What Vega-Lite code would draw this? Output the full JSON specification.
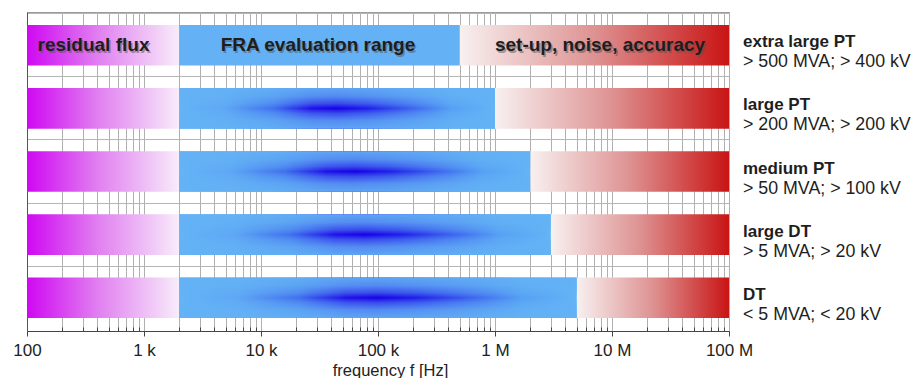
{
  "$schema": "https://vega.github.io/schema/vega-lite/v6.json",
  "width": 702,
  "height": 319,
  "autosize": {"type": "none"},
  "padding": {"left": 27, "top": 12, "right": 186, "bottom": 47},
  "background": "white",
  "config": {
    "view": {"stroke": "#9a9a9a", "strokeWidth": 1},
    "font": "Liberation Sans"
  },
  "datasets": {
    "segments": [
      {"pt": "extra large PT", "spec": "> 500 MVA; > 400 kV", "seg": "flux", "f1": 100, "f2": 2000},
      {"pt": "extra large PT", "spec": "> 500 MVA; > 400 kV", "seg": "fra", "f1": 2000, "f2": 500000},
      {"pt": "extra large PT", "spec": "> 500 MVA; > 400 kV", "seg": "noise", "f1": 500000, "f2": 100000000},
      {"pt": "large PT", "spec": "> 200 MVA; > 200 kV", "seg": "flux", "f1": 100, "f2": 2000},
      {"pt": "large PT", "spec": "> 200 MVA; > 200 kV", "seg": "fra", "f1": 2000, "f2": 1000000},
      {"pt": "large PT", "spec": "> 200 MVA; > 200 kV", "seg": "noise", "f1": 1000000, "f2": 100000000},
      {"pt": "medium PT", "spec": "> 50 MVA; > 100 kV", "seg": "flux", "f1": 100, "f2": 2000},
      {"pt": "medium PT", "spec": "> 50 MVA; > 100 kV", "seg": "fra", "f1": 2000, "f2": 2000000},
      {"pt": "medium PT", "spec": "> 50 MVA; > 100 kV", "seg": "noise", "f1": 2000000, "f2": 100000000},
      {"pt": "large DT", "spec": "> 5 MVA; > 20 kV", "seg": "flux", "f1": 100, "f2": 2000},
      {"pt": "large DT", "spec": "> 5 MVA; > 20 kV", "seg": "fra", "f1": 2000, "f2": 3000000},
      {"pt": "large DT", "spec": "> 5 MVA; > 20 kV", "seg": "noise", "f1": 3000000, "f2": 100000000},
      {"pt": "DT", "spec": "< 5 MVA; < 20 kV", "seg": "flux", "f1": 100, "f2": 2000},
      {"pt": "DT", "spec": "< 5 MVA; < 20 kV", "seg": "fra", "f1": 2000, "f2": 5000000},
      {"pt": "DT", "spec": "< 5 MVA; < 20 kV", "seg": "noise", "f1": 5000000, "f2": 100000000}
    ],
    "notes": [
      {"pt": "extra large PT", "note": "residual flux", "f1": 370},
      {"pt": "extra large PT", "note": "FRA evaluation range", "f1": 30700},
      {"pt": "extra large PT", "note": "set-up, noise, accuracy", "f1": 7900000}
    ]
  },
  "data": {"name": "segments"},
  "encoding": {
    "y": {
      "field": "pt",
      "type": "nominal",
      "sort": ["extra large PT", "large PT", "medium PT", "large DT", "DT"],
      "scale": {"paddingInner": 0.358, "paddingOuter": 0.206},
      "axis": {
        "title": null,
        "labels": false,
        "ticks": false,
        "domain": true,
        "domainColor": "#555555",
        "grid": true,
        "gridColor": "#b5b5b5",
        "bandPosition": -0.28
      }
    },
    "x": {
      "field": "f1",
      "type": "quantitative",
      "scale": {"type": "log", "domain": [100, 100000000], "nice": false},
      "axis": {
        "title": "frequency f [Hz]",
        "titleFontSize": 16.5,
        "titleFontWeight": "normal",
        "titleColor": "#222222",
        "titleX": 363,
        "titlePadding": 4,
        "labelFontSize": 17,
        "labelColor": "#222222",
        "labelOverlap": false,
        "labelFlush": false,
        "labelPadding": 6,
        "values": [100,200,300,400,500,600,700,800,900,1000,2000,3000,4000,5000,6000,7000,8000,9000,10000,20000,30000,40000,50000,60000,70000,80000,90000,100000,200000,300000,400000,500000,600000,700000,800000,900000,1000000,2000000,3000000,4000000,5000000,6000000,7000000,8000000,9000000,10000000,20000000,30000000,40000000,50000000,60000000,70000000,80000000,90000000,100000000],
        "labelExpr": "datum.value == 100 ? '100' : datum.value == 1000 ? '1 k' : datum.value == 10000 ? '10 k' : datum.value == 100000 ? '100 k' : datum.value == 1000000 ? '1 M' : datum.value == 10000000 ? '10 M' : datum.value == 100000000 ? '100 M' : ''",
        "grid": true,
        "gridColor": "#b0b0b0",
        "gridOpacity": 1,
        "domainColor": "#444444",
        "tickColor": "#444444",
        "tickSize": {"condition": {"test": "indexof([100,1000,10000,100000,1000000,10000000,100000000], datum.value) >= 0", "value": 5}, "value": -4}
      }
    }
  },
  "layer": [
    {
      "transform": [{"filter": "datum.seg == 'flux'"}],
      "mark": {
        "type": "bar",
        "fill": {"gradient": "linear", "x1": 0, "x2": 1, "y1": 0, "y2": 0,
          "stops": [
            {"offset": 0, "color": "#cf08f2"},
            {"offset": 0.45, "color": "#e07cf0"},
            {"offset": 1, "color": "#f8ecfa"}
          ]}
      },
      "encoding": {"x2": {"field": "f2"}}
    },
    {
      "transform": [{"filter": "datum.seg == 'noise'"}],
      "mark": {
        "type": "bar",
        "fill": {"gradient": "linear", "x1": 0, "x2": 1, "y1": 0, "y2": 0,
          "stops": [
            {"offset": 0, "color": "#f8f0f0"},
            {"offset": 0.5, "color": "#de9292"},
            {"offset": 1, "color": "#c91414"}
          ]}
      },
      "encoding": {"x2": {"field": "f2"}}
    },
    {
      "transform": [{"filter": "datum.seg == 'fra' && datum.pt == 'extra large PT'"}],
      "mark": {"type": "bar", "fill": "#65b1f5"},
      "encoding": {"x2": {"field": "f2"}}
    },
    {
      "transform": [{"filter": "datum.seg == 'fra' && datum.pt != 'extra large PT'"}],
      "mark": {
        "type": "bar",
        "fill": {"gradient": "linear", "x1": 0, "x2": 1, "y1": 0, "y2": 0,
          "stops": [
            {"offset": 0, "color": "#64b4f6"},
            {"offset": 0.15, "color": "#5ea6f5"},
            {"offset": 0.3, "color": "#4070ef"},
            {"offset": 0.42, "color": "#2010e8"},
            {"offset": 0.5, "color": "#1800e6"},
            {"offset": 0.6, "color": "#2020e9"},
            {"offset": 0.72, "color": "#3a5cee"},
            {"offset": 0.86, "color": "#55a0f4"},
            {"offset": 1, "color": "#64b4f6"}
          ]}
      },
      "encoding": {"x2": {"field": "f2"}}
    },
    {
      "transform": [{"filter": "datum.seg == 'fra' && datum.pt != 'extra large PT'"}],
      "mark": {
        "type": "bar",
        "fill": {"gradient": "linear", "x1": 0, "x2": 0, "y1": 0, "y2": 1,
          "stops": [
            {"offset": 0, "color": "rgba(100,178,245,0.92)"},
            {"offset": 0.2, "color": "rgba(100,178,245,0.78)"},
            {"offset": 0.38, "color": "rgba(100,178,245,0.42)"},
            {"offset": 0.5, "color": "rgba(100,178,245,0)"},
            {"offset": 0.62, "color": "rgba(100,178,245,0.42)"},
            {"offset": 0.8, "color": "rgba(100,178,245,0.78)"},
            {"offset": 1, "color": "rgba(100,178,245,0.92)"}
          ]}
      },
      "encoding": {"x2": {"field": "f2"}}
    },
    {
      "transform": [{"filter": "datum.seg == 'flux'"}],
      "mark": {"type": "text", "align": "left", "baseline": "middle", "dx": 14, "dy": -3, "fontSize": 17, "fontWeight": "bold", "color": "#1e1e1e"},
      "encoding": {"x": {"datum": 100000000, "type": "quantitative"}, "text": {"field": "pt"}}
    },
    {
      "transform": [{"filter": "datum.seg == 'flux'"}],
      "mark": {"type": "text", "align": "left", "baseline": "middle", "dx": 14, "dy": 17, "fontSize": 17.8, "color": "#1e1e1e"},
      "encoding": {"x": {"datum": 100000000, "type": "quantitative"}, "text": {"field": "spec"}}
    },
    {
      "data": {"name": "notes"},
      "mark": {"type": "text", "align": "center", "baseline": "middle", "dx": 1.5, "dy": 1.5, "fontSize": 19, "fontWeight": "bold", "color": "#555555", "opacity": 0.5},
      "encoding": {"text": {"field": "note"}}
    },
    {
      "data": {"name": "notes"},
      "mark": {"type": "text", "align": "center", "baseline": "middle", "fontSize": 19, "fontWeight": "bold", "color": "#1e1e1e"},
      "encoding": {"text": {"field": "note"}}
    }
  ]
}
